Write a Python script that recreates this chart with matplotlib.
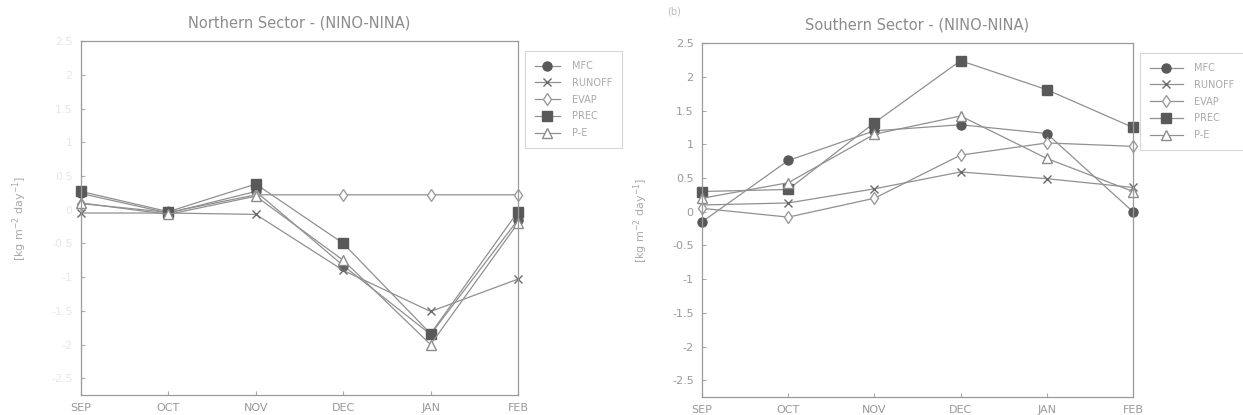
import matplotlib
matplotlib.use("Agg")
import matplotlib.pyplot as plt

months = ["SEP", "OCT", "NOV", "DEC", "JAN", "FEB"]
names = ["MFC", "RUNOFF", "EVAP", "PREC", "P-E"]

# northern sector (NINO-NINA)
n_mfc = [0.24, -0.05, 0.27, -0.83, -1.85, -0.15]
n_runoff = [-0.05, -0.05, -0.07, -0.9, -1.51, -1.03]
n_evap = [0.09, -0.04, 0.22, 0.22, 0.22, 0.22]
n_prec = [0.27, -0.03, 0.38, -0.5, -1.84, -0.03]
n_pe = [0.1, -0.07, 0.2, -0.75, -2.0, -0.2]

# southern sector (NINO-NINA)
s_mfc = [-0.15, 0.76, 1.2, 1.29, 1.16, 0.0]
s_runoff = [0.1, 0.13, 0.34, 0.59, 0.49, 0.36]
s_evap = [0.05, -0.08, 0.2, 0.84, 1.02, 0.97]
s_prec = [0.3, 0.33, 1.32, 2.24, 1.81, 1.25]
s_pe = [0.2, 0.43, 1.15, 1.42, 0.79, 0.3]

yticks = [2.5, 2, 1.5, 1, 0.5, 0, -0.5, -1, -1.5, -2, -2.5]
ytick_labels = ["2.5", "2", "1.5", "1", "0.5", "0", "-0.5", "-1", "-1.5", "-2", "-2.5"]

line_c = "#909090"
styles = [
    dict(marker="o", mfc="#595959", mec="#595959", ms=6.5),
    dict(marker="x", mfc="#6a6a6a", mec="#6a6a6a", ms=5.5),
    dict(marker="d", mfc="white", mec="#9c9c9c", ms=6.5),
    dict(marker="s", mfc="#595959", mec="#595959", ms=6.5),
    dict(marker="^", mfc="white", mec="#8c8c8c", ms=6.5),
]

fig = plt.figure(figsize=(12.43, 4.15), dpi=100)
ax1 = fig.add_axes([0.0652, 0.048, 0.3515, 0.853])
ax2 = fig.add_axes([0.5648, 0.043, 0.3467, 0.853])

panels = [
    (ax1, [n_mfc, n_runoff, n_evap, n_prec, n_pe], "Northern Sector - (NINO-NINA)", "#e6e6e6", 2.6),
    (ax2, [s_mfc, s_runoff, s_evap, s_prec, s_pe], "Southern Sector - (NINO-NINA)", "#999999", 3.4),
]

for ax, series, title, tick_c, hl in panels:
    x = range(len(months))
    for vals, name, st in zip(series, names, styles):
        ax.plot(x, vals, color=line_c, lw=0.9, label=name, clip_on=False, **st)
    ax.set_xlim(0, len(months) - 1)
    ax.set_ylim(-2.75, 2.5)
    ax.set_xticks(list(x))
    ax.set_xticklabels(months, color="#999999", fontsize=8)
    ax.set_yticks(yticks)
    ax.set_yticklabels(ytick_labels, color=tick_c, fontsize=8)
    ax.tick_params(direction="in", length=3, color="#aaaaaa", pad=6)
    for sp in ax.spines.values():
        sp.set_color("#9a9a9a")
        sp.set_linewidth(0.9)
    ax.set_title(title, color="#8c8c8c", fontsize=10.5, pad=10)
    ax.set_ylabel("[kg m$^{-2}$ day$^{-1}$]", color="#aaaaaa", fontsize=8, labelpad=16)
    leg = ax.legend(loc="upper left", bbox_to_anchor=(1.005, 0.985), fontsize=7,
                    frameon=True, fancybox=False, labelspacing=0.7,
                    handlelength=hl, borderpad=1.0, handletextpad=1.2,
                    labelcolor="#aaaaaa")
    leg.get_frame().set_edgecolor("#cccccc")
    leg.get_frame().set_linewidth(0.8)

fig.text(0.537, 0.965, "(b)", color="#bbbbbb", fontsize=7)

fig.savefig("out.png", dpi=100)
